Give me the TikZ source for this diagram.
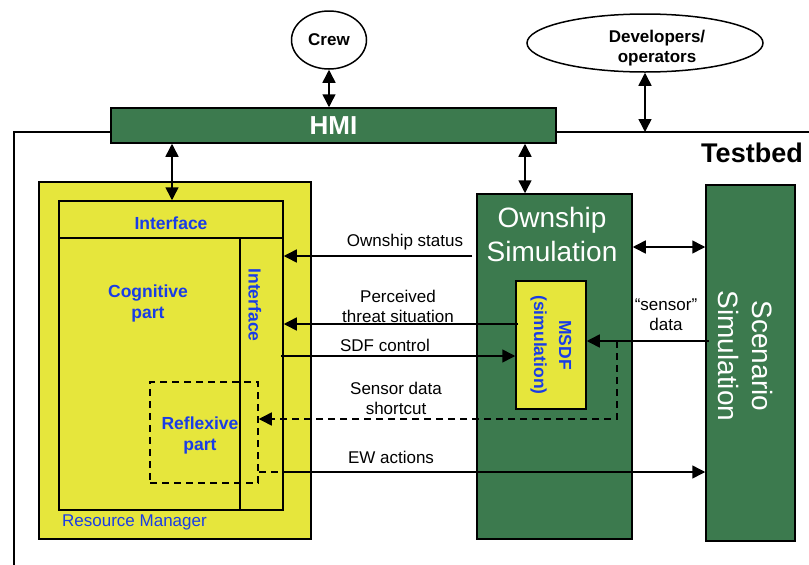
\documentclass[tikz,border=0pt]{standalone}
\usepackage{fontspec}
\setmainfont{Liberation Sans}
\usetikzlibrary{arrows.meta,shapes.geometric}
\definecolor{dkgreen}{RGB}{60,122,78}
\definecolor{ylw}{RGB}{230,230,60}
\definecolor{txtblue}{RGB}{25,60,230}
\begin{document}
\begin{tikzpicture}[x=1pt,y=-1pt,
  lw/.style={line width=1.5pt},
  tip/.tip={Triangle[length=13pt,width=13pt]},
  arr/.style={lw,-tip},
  darr/.style={lw,tip-tip},
  dsh/.style={lw,dash pattern=on 7pt off 5pt},
  box/.style={draw,lw,rectangle,inner sep=0pt},
  lbl/.style={font=\fontsize{17}{20}\selectfont,align=center,inner sep=0pt},
  blbl/.style={lbl,font=\fontsize{17.5}{21}\selectfont\bfseries,text=txtblue},
  big/.style={font=\fontsize{28}{34}\selectfont,align=center,inner sep=0pt,text=white},
  oval/.style={draw,lw,ellipse,fill=white,inner sep=0pt,align=center,font=\fontsize{17}{20}\selectfont\bfseries}]
\useasboundingbox[fill=white] (0,0) rectangle (809,565);

% testbed frame
\draw[lw] (14,565) -- (14,132) -- (809,132);
\node[font=\fontsize{27}{30}\selectfont\bfseries,inner sep=0pt] (testbed) at (752,153) {Testbed};

% top nodes
\node[oval,minimum width=75pt,minimum height=58pt] (crew) at (329,40) {Crew};
\node[oval,minimum width=236pt,minimum height=58pt] (dev) at (645,43) {};
\node[inner sep=0pt,align=center,font=\fontsize{17}{20}\selectfont\bfseries] (devtxt) at (657,48) {Developers/\\operators};
\node[box,fill=dkgreen,minimum width=445pt,minimum height=35pt,text=white,font=\fontsize{26}{30}\selectfont\bfseries] (hmi) at (333.5,125.5) {HMI};

% resource manager
\node[box,fill=ylw,minimum width=272pt,minimum height=357pt] (rm) at (175,360.5) {};
\node[box,minimum width=224pt,minimum height=309pt] (inner) at (171,355.5) {};
\coordinate (yif) at (0,238);
\draw[lw] (inner.west |- yif) -- (inner.east |- yif);
\coordinate (xif) at (240,238);
\draw[lw] (xif) -- (xif |- inner.south);
\node[blbl] (ifh) at (171,223) {Interface};
\node[blbl,rotate=-90] (ifv) at (255,305) {Interface};
\node[blbl] (cog) at (148,303) {Cognitive\\part};
\node[draw,dsh,minimum width=108pt,minimum height=101pt,inner sep=0pt] (reflex) at (204,432.5) {};
\node[blbl] (refl) at (200,435) {Reflexive\\part};
\node[lbl,text=txtblue,anchor=west] (rmlbl) at (62,522) {Resource Manager};

% ownship
\node[box,fill=dkgreen,minimum width=155pt,minimum height=345pt] (own) at (554.5,366.5) {};
\node[big] (owntxt) at (552,234) {Ownship\\Simulation};
\node[box,fill=ylw,minimum width=70pt,minimum height=128pt] (msdf) at (551,345) {};
\node[blbl,rotate=-90,font=\fontsize{17.5}{25}\selectfont\bfseries] (msdftxt) at (551,345) {MSDF\\(simulation)};

% scenario
\node[box,fill=dkgreen,minimum width=89pt,minimum height=356pt] (scen) at (750.5,363) {};
\node[big,rotate=-90] (scentxt) at (746,356) {Scenario\\Simulation};

% y levels
\coordinate (yos) at (0,256);
\coordinate (yoss) at (0,247);
\coordinate (ypt) at (0,324);
\coordinate (ysd) at (0,341);
\coordinate (ysdf) at (0,356);
\coordinate (ysc) at (0,419);
\coordinate (yew) at (0,472);
\coordinate (hx1) at (172,0);
\coordinate (hx2) at (525,0);
\coordinate (tb) at (645,132);
\coordinate (scx) at (617,341);
\coordinate (ew0) at (285,472);

% connectors
\draw[darr] (crew.south) -- (crew.south |- hmi.north);
\draw[darr] (dev.south) -- (tb);
\draw[darr] (hmi.south -| hx1) -- (inner.north -| hx1);
\draw[darr] (hmi.south -| hx2) -- (own.north -| hx2);
\draw[darr] (own.east |- yoss) -- (scen.west |- yoss);
\draw[arr] ([xshift=-4pt]own.west |- yos) -- (inner.east |- yos);
\draw[arr] ([xshift=3pt]msdf.west |- ypt) -- (inner.east |- ypt);
\draw[arr] ([xshift=-3pt]inner.east |- ysdf) -- (msdf.west |- ysdf);
\draw[arr] ([xshift=4pt]scen.west |- ysd) -- (msdf.east |- ysd);
\draw[dsh] (scx) -- (scx |- ysc) -- ([xshift=8pt]reflex.east |- ysc);
\draw[lw,-tip] ([xshift=10pt]reflex.east |- ysc) -- (reflex.east |- ysc);
\draw[dsh] (reflex.east |- yew) -- (ew0);
\draw[arr] (ew0) -- (scen.west |- ew0);

% labels
\node[lbl] (l1) at (405,242) {Ownship status};
\node[lbl] (l2) at (398,306) {Perceived\\threat situation};
\node[lbl] (l3) at (385,345) {SDF control};
\node[lbl] (l4) at (396,398) {Sensor data\\shortcut};
\node[lbl] (l5) at (391,457) {EW actions};
\node[lbl] (l6) at (666,315) {“sensor”\\data};
\end{tikzpicture}
\end{document}
